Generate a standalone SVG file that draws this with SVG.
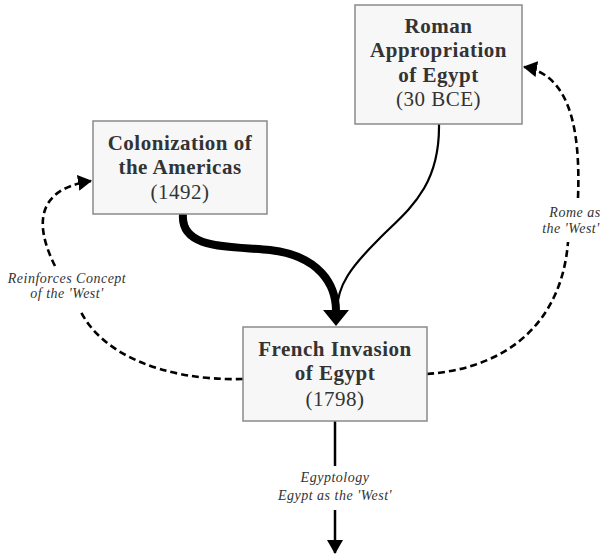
<svg xmlns="http://www.w3.org/2000/svg" width="603" height="556" viewBox="0 0 603 556">
<defs>
<style>
.box{fill:#f7f7f7;stroke:#8a8a8a;stroke-width:1.5}
.title{font-family:"Liberation Serif","Times New Roman",serif;font-weight:bold;font-size:21px;fill:#333;letter-spacing:0.5px;text-anchor:middle}
.year{font-family:"Liberation Serif","Times New Roman",serif;font-size:21px;fill:#333;letter-spacing:0.5px;text-anchor:middle}
.lbl{font-family:"Liberation Serif","Times New Roman",serif;font-style:italic;font-size:14px;fill:#333;letter-spacing:0.5px;text-anchor:middle}
.dash{fill:none;stroke:#000;stroke-width:2.6;stroke-dasharray:7,4}
.solid{fill:none;stroke:#000}
</style>
<marker id="ah" markerUnits="userSpaceOnUse" markerWidth="14" markerHeight="16" refX="13" refY="8" orient="auto">
<path d="M0,0 L14,8 L0,16 Z" fill="#000"/>
</marker>
<marker id="ahBig" markerUnits="userSpaceOnUse" markerWidth="16" markerHeight="26" refX="1" refY="13" orient="auto">
<path d="M0,0 L16,13 L0,26 Z" fill="#000"/>
</marker>
</defs>
<g id="connectors">
<path class="solid" d="M183,214 C180,250 230,246 270,250 C320,256 336,285 336,311" stroke-width="8" marker-end="url(#ahBig)"/>
<path class="solid" d="M439,124 C440,190 405,212 378,240 C352,266 337,285 337,311" stroke-width="2.2"/>
<path class="dash" d="M427,374 C510,368 562,320 568,242"/>
<path class="dash" d="M578,198 C581,120 566,74 524,67" marker-end="url(#ah)"/>
<path class="dash" d="M243,379 C160,381 100,352 80,310"/>
<path class="dash" d="M55,266 C38,232 30,190 91,181" marker-end="url(#ah)"/>
<path class="solid" d="M335,421 L335,466" stroke-width="2.5"/>
<path class="solid" d="M335,510 L335,553" stroke-width="2.5" marker-end="url(#ah)"/>
<text class="lbl" x="67" y="283">Reinforces Concept</text>
<text class="lbl" x="67" y="298">of the 'West'</text>
<text class="lbl" x="575" y="217">Rome as</text>
<text class="lbl" x="571" y="233">the 'West'</text>
<text class="lbl" x="335" y="482">Egyptology</text>
<text class="lbl" x="335" y="500">Egypt as the 'West'</text>
</g>
<g id="roman">
<rect class="box" x="355" y="5" width="167" height="119"/>
<text class="title" x="438.5" y="33">Roman</text>
<text class="title" x="438.5" y="57">Appropriation</text>
<text class="title" x="438.5" y="82">of Egypt</text>
<text class="year" x="438.5" y="106">(30 BCE)</text>
</g>
<g id="colonization">
<rect class="box" x="93" y="121" width="174" height="93"/>
<text class="title" x="180" y="150">Colonization of</text>
<text class="title" x="180" y="174">the Americas</text>
<text class="year" x="180" y="199">(1492)</text>
</g>
<g id="french">
<rect class="box" x="243" y="327" width="184" height="94"/>
<text class="title" x="335" y="356">French Invasion</text>
<text class="title" x="335" y="380">of Egypt</text>
<text class="year" x="335" y="406">(1798)</text>
</g>
</svg>
